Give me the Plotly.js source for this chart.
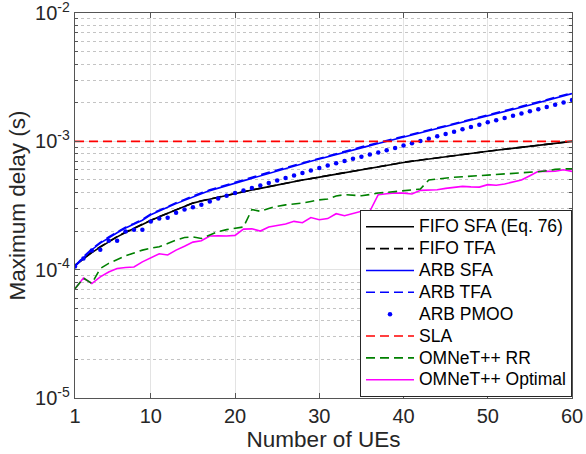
<!DOCTYPE html>
<html>
<head>
<meta charset="utf-8">
<script src="https://cdn.plot.ly/plotly-3.0.1.min.js"></script>
<style>
html,body{margin:0;padding:0;background:#fff;}
#chart{width:586px;height:454px;}
text.legendtext{font-size:17.5px !important;}
</style>
</head>
<body>
<div id="chart"></div>
<script>
// Number of UEs
const ues = [1,2,3,4,5,6,7,8,9,10,11,12,13,14,15,16,17,18,19,20,21,22,23,24,25,26,27,28,29,30,
             31,32,33,34,35,36,37,38,39,40,41,42,43,44,45,46,47,48,49,50,51,52,53,54,55,56,57,58,59,60];

// Maximum delay (s)
const fifoSFA = [1.08e-4,1.22e-4,1.36e-4,1.50e-4,1.65e-4,1.80e-4,1.95e-4,2.10e-4,2.25e-4,2.42e-4,
                 2.58e-4,2.75e-4,2.93e-4,3.12e-4,3.30e-4,3.43e-4,3.55e-4,3.67e-4,3.79e-4,3.91e-4,
                 4.04e-4,4.17e-4,4.30e-4,4.44e-4,4.58e-4,4.72e-4,4.86e-4,4.99e-4,5.12e-4,5.26e-4,
                 5.42e-4,5.58e-4,5.74e-4,5.90e-4,6.06e-4,6.22e-4,6.38e-4,6.54e-4,6.70e-4,6.85e-4,
                 7.00e-4,7.15e-4,7.30e-4,7.45e-4,7.60e-4,7.75e-4,7.90e-4,8.05e-4,8.20e-4,8.36e-4,
                 8.52e-4,8.68e-4,8.84e-4,9.00e-4,9.16e-4,9.33e-4,9.50e-4,9.66e-4,9.83e-4,1.00e-3];

const fifoTFA = [1.08e-4,1.22e-4,1.37e-4,1.51e-4,1.66e-4,1.81e-4,1.96e-4,2.11e-4,2.26e-4,2.43e-4,
                 2.59e-4,2.76e-4,2.94e-4,3.13e-4,3.31e-4,3.44e-4,3.56e-4,3.68e-4,3.80e-4,3.92e-4,
                 4.05e-4,4.18e-4,4.31e-4,4.45e-4,4.59e-4,4.73e-4,4.87e-4,5.00e-4,5.13e-4,5.27e-4,
                 5.43e-4,5.59e-4,5.75e-4,5.91e-4,6.07e-4,6.23e-4,6.39e-4,6.55e-4,6.71e-4,6.86e-4,
                 7.01e-4,7.16e-4,7.31e-4,7.46e-4,7.61e-4,7.76e-4,7.91e-4,8.06e-4,8.21e-4,8.37e-4,
                 8.53e-4,8.69e-4,8.85e-4,9.01e-4,9.17e-4,9.34e-4,9.51e-4,9.67e-4,9.84e-4,1.00e-3];

const arbSFA = [1.06e-4,1.24e-4,1.43e-4,1.61e-4,1.78e-4,1.94e-4,2.11e-4,2.26e-4,2.43e-4,2.68e-4,
                2.88e-4,3.07e-4,3.27e-4,3.48e-4,3.71e-4,3.91e-4,4.13e-4,4.32e-4,4.52e-4,4.72e-4,
                4.94e-4,5.17e-4,5.40e-4,5.64e-4,5.89e-4,6.15e-4,6.42e-4,6.70e-4,6.99e-4,7.29e-4,
                7.60e-4,7.92e-4,8.24e-4,8.57e-4,8.92e-4,9.26e-4,9.63e-4,1.000e-3,1.038e-3,1.078e-3,
                1.120e-3,1.163e-3,1.207e-3,1.254e-3,1.302e-3,1.349e-3,1.401e-3,1.455e-3,1.511e-3,1.566e-3,
                1.632e-3,1.701e-3,1.770e-3,1.844e-3,1.921e-3,2.003e-3,2.084e-3,2.171e-3,2.263e-3,2.354e-3];

const arbTFA = [1.07e-4,1.26e-4,1.45e-4,1.63e-4,1.80e-4,1.97e-4,2.14e-4,2.29e-4,2.47e-4,2.72e-4,
                2.92e-4,3.12e-4,3.32e-4,3.53e-4,3.76e-4,3.97e-4,4.19e-4,4.39e-4,4.59e-4,4.79e-4,
                5.02e-4,5.25e-4,5.48e-4,5.73e-4,5.98e-4,6.24e-4,6.52e-4,6.80e-4,7.10e-4,7.40e-4,
                7.72e-4,8.04e-4,8.37e-4,8.70e-4,9.06e-4,9.40e-4,9.78e-4,1.015e-3,1.054e-3,1.095e-3,
                1.137e-3,1.181e-3,1.226e-3,1.273e-3,1.322e-3,1.370e-3,1.423e-3,1.477e-3,1.534e-3,1.590e-3,
                1.657e-3,1.727e-3,1.797e-3,1.872e-3,1.950e-3,2.033e-3,2.116e-3,2.204e-3,2.297e-3,2.390e-3];

const arbPMOO = [1.06e-4,1.22e-4,1.41e-4,1.43e-4,1.68e-4,1.68e-4,1.98e-4,2.05e-4,2.05e-4,2.37e-4,
                 2.50e-4,2.54e-4,2.78e-4,2.94e-4,3.06e-4,3.21e-4,3.39e-4,3.58e-4,3.77e-4,3.96e-4,
                 4.14e-4,4.33e-4,4.53e-4,4.74e-4,4.96e-4,5.18e-4,5.42e-4,5.67e-4,5.93e-4,6.20e-4,
                 6.47e-4,6.74e-4,7.02e-4,7.31e-4,7.60e-4,7.88e-4,8.19e-4,8.52e-4,8.87e-4,9.26e-4,
                 9.65e-4,1.005e-3,1.049e-3,1.094e-3,1.140e-3,1.190e-3,1.240e-3,1.293e-3,1.349e-3,1.406e-3,
                 1.463e-3,1.522e-3,1.583e-3,1.647e-3,1.713e-3,1.782e-3,1.854e-3,1.932e-3,2.010e-3,2.095e-3];

const slaX = [1, 60];
const slaY = [1e-3, 1e-3];

const omnetRR = [7.1e-5,8.6e-5,7.8e-5,1.02e-4,1.12e-4,1.20e-4,1.28e-4,1.35e-4,1.42e-4,1.47e-4,
                 1.51e-4,1.60e-4,1.70e-4,1.78e-4,1.80e-4,1.75e-4,1.85e-4,1.98e-4,2.05e-4,2.10e-4,
                 2.15e-4,2.94e-4,2.85e-4,3.00e-4,3.12e-4,3.20e-4,3.25e-4,3.30e-4,3.40e-4,3.50e-4,
                 3.55e-4,3.75e-4,3.84e-4,3.80e-4,3.77e-4,3.85e-4,3.96e-4,4.00e-4,4.05e-4,4.10e-4,
                 4.20e-4,4.25e-4,5.00e-4,5.10e-4,5.15e-4,5.25e-4,5.30e-4,5.35e-4,5.40e-4,5.45e-4,
                 5.50e-4,5.55e-4,5.60e-4,5.70e-4,5.75e-4,5.80e-4,5.90e-4,6.05e-4,6.10e-4,6.10e-4];

const omnetOpt = [7.1e-5,8.6e-5,7.8e-5,8.8e-5,9.6e-5,1.02e-4,1.04e-4,1.05e-4,1.15e-4,1.24e-4,
                  1.33e-4,1.30e-4,1.42e-4,1.52e-4,1.64e-4,1.68e-4,1.83e-4,1.84e-4,1.83e-4,1.85e-4,
                  2.07e-4,2.08e-4,2.00e-4,2.15e-4,2.20e-4,2.27e-4,2.38e-4,2.32e-4,2.55e-4,2.45e-4,
                  2.50e-4,2.73e-4,2.63e-4,2.72e-4,2.85e-4,2.85e-4,3.84e-4,3.90e-4,3.96e-4,3.95e-4,
                  3.89e-4,4.15e-4,4.15e-4,4.20e-4,4.30e-4,4.40e-4,4.46e-4,4.42e-4,4.40e-4,4.60e-4,
                  4.55e-4,4.65e-4,4.80e-4,5.00e-4,5.40e-4,5.83e-4,5.83e-4,5.85e-4,6.00e-4,5.83e-4];

// Axis ticks
const xTicks = [1, 10, 20, 30, 40, 50, 60];
const yTicks = [1e-5, 1e-4, 1e-3, 1e-2];
const yTickText = ['10<sup>-5</sup>', '10<sup>-4</sup>', '10<sup>-3</sup>', '10<sup>-2</sup>'];
const yMinor = [2e-5,3e-5,4e-5,5e-5,6e-5,7e-5,8e-5,9e-5,
                2e-4,3e-4,4e-4,5e-4,6e-4,7e-4,8e-4,9e-4,
                2e-3,3e-3,4e-3,5e-3,6e-3,7e-3,8e-3,9e-3];

const FONT = 'Liberation Sans, Arial, Helvetica, sans-serif';
const TXT = '#262626';
const AXC = '#555555';
const dashPat = '9px,5px';

const traces = [
  {x: ues, y: fifoSFA, name: 'FIFO SFA (Eq. 76)', mode: 'lines', legendrank: 1,
   line: {color: '#000000', width: 1.6}},
  {x: ues, y: fifoTFA, name: 'FIFO TFA', mode: 'lines', legendrank: 2,
   line: {color: '#000000', width: 1.6, dash: dashPat}},
  {x: ues, y: arbSFA, name: 'ARB SFA', mode: 'lines', legendrank: 3,
   line: {color: '#0000ff', width: 1.6}},
  {x: ues, y: arbTFA, name: 'ARB TFA', mode: 'lines', legendrank: 4,
   line: {color: '#0000ff', width: 1.6, dash: dashPat}},
  {x: ues, y: arbPMOO, name: 'ARB PMOO', mode: 'markers', legendrank: 5,
   marker: {color: '#0000ff', size: 4.5}},
  {x: slaX, y: slaY, name: 'SLA', mode: 'lines', legendrank: 6,
   line: {color: '#ff0000', width: 1.6, dash: dashPat}},
  {x: ues, y: omnetOpt, name: 'OMNeT++ Optimal', mode: 'lines', legendrank: 8,
   line: {color: '#ff00ff', width: 1.6}},
  {x: ues, y: omnetRR, name: 'OMNeT++ RR', mode: 'lines', legendrank: 7,
   line: {color: '#008000', width: 1.6, dash: dashPat}}
];

const layout = {
  width: 586, height: 454,
  margin: {l: 75, r: 14, t: 13, b: 56},
  paper_bgcolor: '#ffffff', plot_bgcolor: '#ffffff',
  font: {family: FONT, color: TXT, size: 16},
  showlegend: true,
  xaxis: {
    range: [1, 60], tickmode: 'array', tickvals: xTicks, ticklabeloverflow: 'allow',
    ticks: 'inside', ticklen: 5, tickcolor: AXC, mirror: 'allticks',
    showline: true, linecolor: AXC, linewidth: 1.2,
    showgrid: true, gridcolor: '#e3e3e3', gridwidth: 1, zeroline: false,
    tickfont: {family: FONT, size: 20, color: TXT},
    title: {text: 'Number of UEs', font: {family: FONT, size: 22.5, color: TXT}, standoff: 1}
  },
  yaxis: {
    type: 'log', range: [-5, -2], tickmode: 'array', tickvals: yTicks, ticktext: yTickText,
    ticklabeloverflow: 'allow',
    ticks: 'inside', ticklen: 5, tickcolor: AXC, mirror: 'allticks',
    showline: true, linecolor: AXC, linewidth: 1.2,
    showgrid: true, gridcolor: '#e3e3e3', gridwidth: 1, zeroline: false,
    tickfont: {family: FONT, size: 20, color: TXT},
    minor: {tickmode: 'array', tickvals: yMinor, ticks: 'inside', ticklen: 3, tickcolor: AXC,
            showgrid: true, griddash: 'dot', gridcolor: '#c4c4c4', gridwidth: 1},
    title: {text: 'Maximum delay (s)', font: {family: FONT, size: 22.5, color: TXT}, standoff: 3}
  },
  legend: {
    x: 1, xanchor: 'right', y: 0.003, yanchor: 'bottom',
    bgcolor: '#ffffff', bordercolor: TXT, borderwidth: 1,
    font: {family: FONT, size: 14.5, color: '#000000'},
    itemwidth: 48, tracegroupgap: 0
  }
};

Plotly.newPlot('chart', traces, layout, {displayModeBar: false, staticPlot: true});
</script>
</body>
</html>
